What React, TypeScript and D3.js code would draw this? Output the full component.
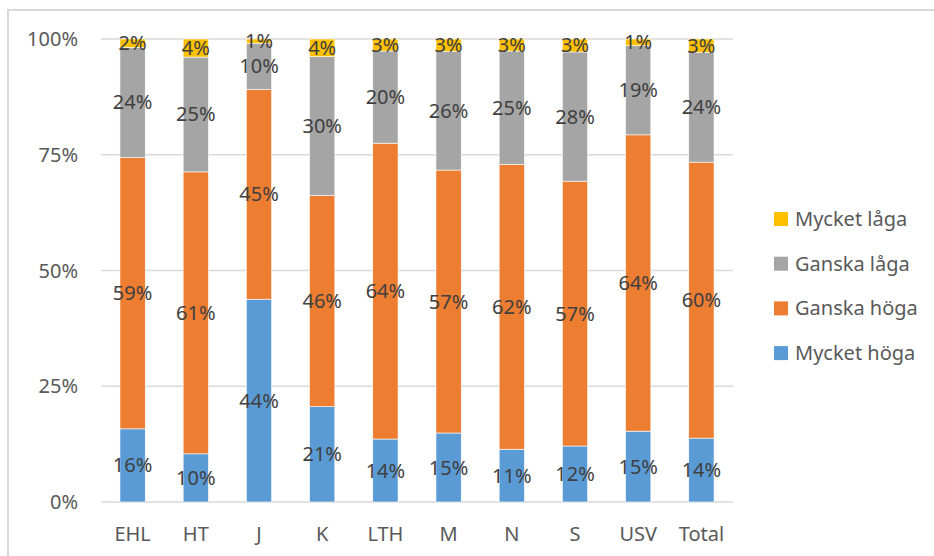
import React from "react";
import * as d3 from "d3";

const categories = ["EHL", "HT", "J", "K", "LTH", "M", "N", "S", "USV", "Total"];
const mycketHoga = [15.8, 10.4, 43.8, 20.6, 13.6, 14.9, 11.4, 12.1, 15.3, 13.8];
const ganskaHoga = [58.6, 60.9, 45.3, 45.6, 63.9, 56.8, 61.5, 57.2, 64.0, 59.6];
const ganskaLaga = [23.8, 24.8, 10.0, 30.0, 19.9, 25.6, 24.5, 27.9, 19.3, 23.7];
const mycketLaga = [1.8, 3.9, 0.9, 3.8, 2.6, 2.7, 2.6, 2.8, 1.4, 2.9];
const tickValues = [0, 25, 50, 75, 100];

const seriesNames = ["Mycket höga", "Ganska höga", "Ganska låga", "Mycket låga"];
const seriesColors = ["#5B9BD5", "#ED7D31", "#A5A5A5", "#FFC000"];
const seriesValues = [mycketHoga, ganskaHoga, ganskaLaga, mycketLaga];

const W = 934;
const H = 556;
const FONT = "'Noto Sans', sans-serif";

export default function App() {
  const rows = categories.map((c, i) => {
    const r: any = { cat: c };
    seriesNames.forEach((s, j) => (r[s] = seriesValues[j][i]));
    return r;
  });
  const stacked = d3.stack<any>().keys(seriesNames)(rows);

  const x = d3.scaleBand().domain(categories).range([101, 733]).paddingInner(0.6).paddingOuter(0.3);
  const y = d3.scaleLinear().domain([0, 100]).range([502, 39]);

  return (
    <svg width={W} height={H} style={{ position: "absolute", left: 0, top: 0, background: "#fff" }} fontFamily={FONT}>
      <rect x={8} y={10} width={1000} height={1000} fill="#fff" stroke="#D9D9D9" strokeWidth={2} />
      {tickValues.map((t) => (
        <g key={t}>
          <line x1={101} x2={733} y1={y(t)} y2={y(t)} stroke="#D9D9D9" strokeWidth={1.5} />
          <text x={78} y={y(t) + 7} textAnchor="end" fontSize={20} fill="#595959">
            {t}%
          </text>
        </g>
      ))}
      {stacked.map((s, j) => (
        <g key={s.key}>
          {s.map((d, i) => (
            <rect
              key={i}
              x={x(categories[i])!}
              y={y(d[1])}
              width={x.bandwidth()}
              height={y(d[0]) - y(d[1])}
              fill={seriesColors[j]}
              stroke="#fff"
              strokeWidth={0.6}
            />
          ))}
        </g>
      ))}
      {stacked.map((s, j) => (
        <g key={"l" + s.key}>
          {s.map((d, i) => (
            <text
              key={i}
              x={x(categories[i])! + x.bandwidth() / 2}
              y={(y(d[0]) + y(d[1])) / 2 + 7}
              textAnchor="middle"
              fontSize={20}
              fill="#404040"
            >
              {Math.round(seriesValues[j][i])}%
            </text>
          ))}
        </g>
      ))}
      {categories.map((c) => (
        <text key={c} x={x(c)! + x.bandwidth() / 2} y={541} textAnchor="middle" fontSize={20} fill="#595959">
          {c}
        </text>
      ))}
      {seriesNames
        .slice()
        .reverse()
        .map((n, k) => {
          const idx = seriesNames.length - 1 - k;
          const cy = 219 + k * 44.7;
          return (
            <g key={n}>
              <rect x={774} y={cy - 7} width={14} height={14} fill={seriesColors[idx]} />
              <text x={795} y={cy + 7} fontSize={20} fill="#595959">
                {n}
              </text>
            </g>
          );
        })}
    </svg>
  );
}
